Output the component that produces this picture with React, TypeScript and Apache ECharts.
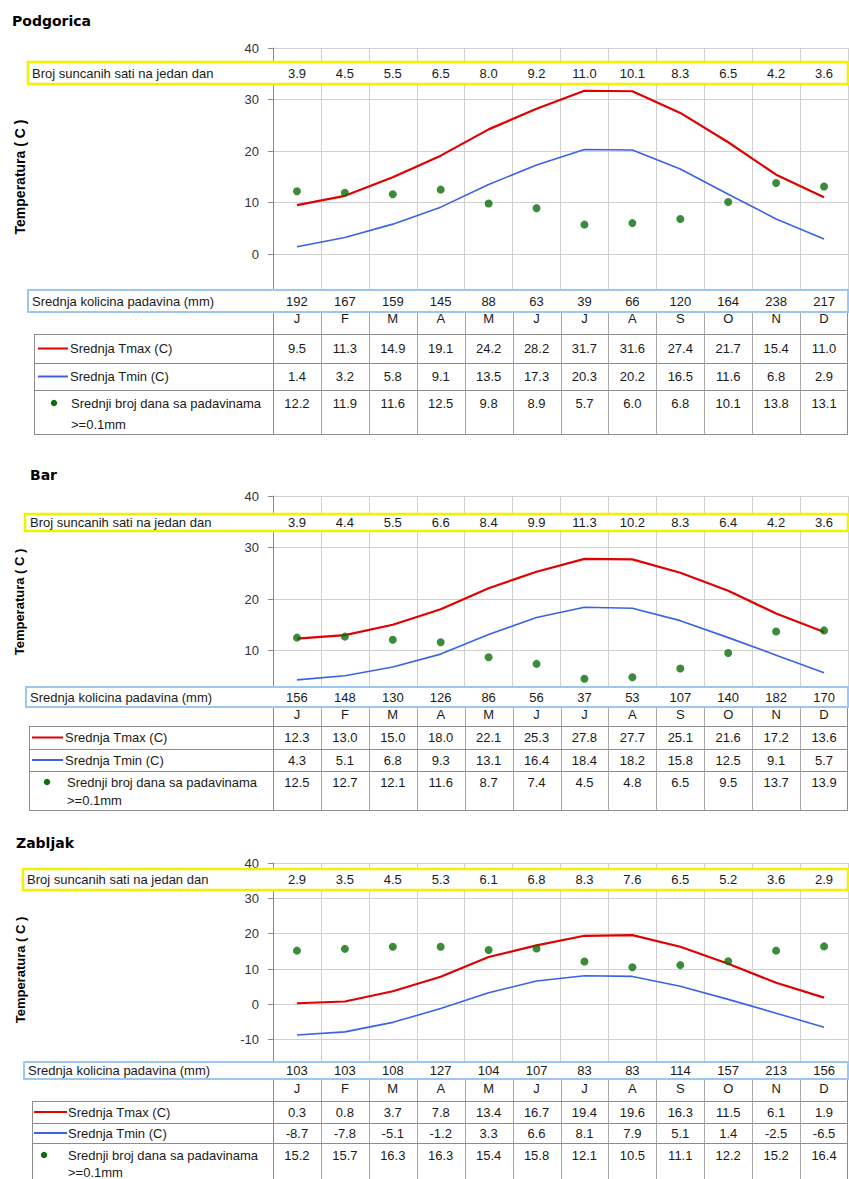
import React, { useEffect, useRef } from "react";
import * as echarts from "echarts";

// ---------- DATA ----------
const months = ["J", "F", "M", "A", "M", "J", "J", "A", "S", "O", "N", "D"];

const stationNames = ["Podgorica", "Bar", "Zabljak"];

const podgoricaSun = [3.9, 4.5, 5.5, 6.5, 8.0, 9.2, 11.0, 10.1, 8.3, 6.5, 4.2, 3.6];
const podgoricaPrecip = [192, 167, 159, 145, 88, 63, 39, 66, 120, 164, 238, 217];
const podgoricaTmax = [9.5, 11.3, 14.9, 19.1, 24.2, 28.2, 31.7, 31.6, 27.4, 21.7, 15.4, 11.0];
const podgoricaTmin = [1.4, 3.2, 5.8, 9.1, 13.5, 17.3, 20.3, 20.2, 16.5, 11.6, 6.8, 2.9];
const podgoricaDays = [12.2, 11.9, 11.6, 12.5, 9.8, 8.9, 5.7, 6.0, 6.8, 10.1, 13.8, 13.1];
const podgoricaYRange = [-10, 40];

const barSun = [3.9, 4.4, 5.5, 6.6, 8.4, 9.9, 11.3, 10.2, 8.3, 6.4, 4.2, 3.6];
const barPrecip = [156, 148, 130, 126, 86, 56, 37, 53, 107, 140, 182, 170];
const barTmax = [12.3, 13.0, 15.0, 18.0, 22.1, 25.3, 27.8, 27.7, 25.1, 21.6, 17.2, 13.6];
const barTmin = [4.3, 5.1, 6.8, 9.3, 13.1, 16.4, 18.4, 18.2, 15.8, 12.5, 9.1, 5.7];
const barDays = [12.5, 12.7, 12.1, 11.6, 8.7, 7.4, 4.5, 4.8, 6.5, 9.5, 13.7, 13.9];
const barYRange = [0, 40];

const zabljakSun = [2.9, 3.5, 4.5, 5.3, 6.1, 6.8, 8.3, 7.6, 6.5, 5.2, 3.6, 2.9];
const zabljakPrecip = [103, 103, 108, 127, 104, 107, 83, 83, 114, 157, 213, 156];
const zabljakTmax = [0.3, 0.8, 3.7, 7.8, 13.4, 16.7, 19.4, 19.6, 16.3, 11.5, 6.1, 1.9];
const zabljakTmin = [-8.7, -7.8, -5.1, -1.2, 3.3, 6.6, 8.1, 7.9, 5.1, 1.4, -2.5, -6.5];
const zabljakDays = [15.2, 15.7, 16.3, 16.3, 15.4, 15.8, 12.1, 10.5, 11.1, 12.2, 15.2, 16.4];
const zabljakYRange = [-20, 40];

const yInterval = 10;

const sunLabel = "Broj suncanih sati na jedan dan";
const precipLabel = "Srednja kolicina padavina (mm)";
const tmaxLabel = "Srednja Tmax (C)";
const tminLabel = "Srednja Tmin (C)";
const daysLabel1 = "Srednji broj dana sa padavinama";
const daysLabel2 = ">=0.1mm";
const yName = "Temperatura ( C )";

const stations = [
  { sun: podgoricaSun, precip: podgoricaPrecip, tmax: podgoricaTmax, tmin: podgoricaTmin, days: podgoricaDays, yr: podgoricaYRange },
  { sun: barSun, precip: barPrecip, tmax: barTmax, tmin: barTmin, days: barDays, yr: barYRange },
  { sun: zabljakSun, precip: zabljakPrecip, tmax: zabljakTmax, tmin: zabljakTmin, days: zabljakDays, yr: zabljakYRange },
];

// ---------- LAYOUT ----------
const W = 849;
const H = 1179;
const FONT = "'Liberation Sans', Arial, sans-serif";
const TITLE_FONT = "'DejaVu Sans', Verdana, sans-serif";
const GRID_LEFT = 273;
const GRID_RIGHT = 848;
const COL_W = (GRID_RIGHT - GRID_LEFT) / 12;

const RED = "#e00000";
const BLUE = "#3a62e8";
const GREEN = "#0a6e0a";
const YELLOW = "#f2f200";
const LIGHTBLUE = "#9cc8f0";
const BORDER = "#8c8c8c";
const SPLIT = "#d0d0d0";
const TEXT = "#1a1a1a";

const layouts = [
  {
    titleX: 12, titleY: 21, nameX: 20, nameY: 177, nameSize: 14,
    gridTop: 48, gridH: 257.5, labelMargin: 6,
    sunBox: [28, 62, 22], precipBox: [28, 290, 22], sunTextX: 32, precipTextX: 32,
    tableX: 34, rows: [334, 363, 390, 434],
    legendX: [38, 68], textX: 70, dotX: 54, daysTextX: 71, daysY: 403, daysLH: 21,
  },
  {
    titleX: 30, titleY: 475, nameX: 19, nameY: 602, nameSize: 13,
    gridTop: 496, gridH: 206, labelMargin: 6,
    sunBox: [25, 514, 17], precipBox: [26, 687, 20], sunTextX: 30, precipTextX: 30,
    tableX: 29, rows: [726, 749, 771, 810],
    legendX: [32, 63], textX: 65, dotX: 47, daysTextX: 67, daysY: 782, daysLH: 18,
  },
  {
    titleX: 16, titleY: 843, nameX: 20, nameY: 970, nameSize: 13,
    gridTop: 863, gridH: 212, labelMargin: 7,
    sunBox: [23, 869, 21], precipBox: [24, 1062, 17], sunTextX: 27, precipTextX: 28,
    tableX: 32, rows: [1101, 1123, 1143, 1195],
    legendX: [34, 67], textX: 68, dotX: 44, daysTextX: 68, daysY: 1155, daysLH: 17,
  },
];

const colCenter = (k: number) => GRID_LEFT + (k + 0.5) * COL_W;

function txt(x: number, y: number, text: string, opts: any = {}) {
  return {
    type: "text",
    x,
    y,
    z: 102,
    silent: true,
    style: {
      text,
      fill: opts.fill || TEXT,
      fontSize: opts.fontSize || 13,
      fontFamily: opts.fontFamily || FONT,
      fontWeight: opts.fontWeight || "normal",
      align: opts.align || "left",
      verticalAlign: "middle",
    },
    rotation: opts.rotation || 0,
  };
}

function hline(x1: number, x2: number, y: number, color = BORDER) {
  const yy = Math.round(y) + 0.5;
  return { type: "line", z: 101, silent: true, shape: { x1, y1: yy, x2, y2: yy }, style: { stroke: color, lineWidth: 1 } };
}
function vline(x: number, y1: number, y2: number, color = BORDER) {
  const xx = Math.round(x) + 0.5;
  return { type: "line", z: 101, silent: true, shape: { x1: xx, y1, x2: xx, y2 }, style: { stroke: color, lineWidth: 1 } };
}

function buildOption() {
  const grid: any[] = [];
  const xAxis: any[] = [];
  const yAxis: any[] = [];
  const series: any[] = [];
  const graphic: any[] = [];

  stations.forEach((st, i) => {
    const L = layouts[i];
    grid.push({
      left: GRID_LEFT,
      top: L.gridTop,
      width: GRID_RIGHT - GRID_LEFT,
      height: L.gridH,
      containLabel: false,
      outerBoundsMode: "none",
    });
    xAxis.push({
      type: "category",
      gridIndex: i,
      data: months,
      boundaryGap: true,
      axisLine: { show: false },
      axisTick: { show: false },
      axisLabel: { margin: L.labelMargin, fontSize: 13, fontFamily: FONT, color: TEXT, interval: 0 },
      splitLine: { show: true, interval: 0, lineStyle: { color: SPLIT, width: 1 } },
    });
    yAxis.push({
      type: "value",
      gridIndex: i,
      min: st.yr[0],
      max: st.yr[1],
      interval: yInterval,
      axisLine: { show: true, lineStyle: { color: "#8a8a8a" } },
      axisTick: { show: true, length: 5, lineStyle: { color: "#8a8a8a" } },
      axisLabel: { margin: 14, fontSize: 13, fontFamily: FONT, color: "#333" },
      splitLine: { show: true, lineStyle: { color: SPLIT, width: 1 } },
    });
    series.push(
      {
        type: "line",
        name: tmaxLabel,
        xAxisIndex: i,
        yAxisIndex: i,
        data: st.tmax,
        symbol: "none",
        lineStyle: { color: RED, width: 2.2 },
        z: 3,
      },
      {
        type: "line",
        name: tminLabel,
        xAxisIndex: i,
        yAxisIndex: i,
        data: st.tmin,
        symbol: "none",
        lineStyle: { color: BLUE, width: 1.6 },
        z: 3,
      },
      {
        type: "scatter",
        name: daysLabel1,
        xAxisIndex: i,
        yAxisIndex: i,
        data: st.days,
        symbol: "circle",
        symbolSize: 8,
        itemStyle: { color: GREEN },
        z: 4,
      }
    );

    // title
    graphic.push(txt(L.titleX, L.titleY, stationNames[i], { fontFamily: TITLE_FONT, fontWeight: "bold", fontSize: 14, fill: "#000" }));
    // y axis name
    graphic.push(txt(L.nameX, L.nameY, yName, { fontWeight: "bold", fontSize: L.nameSize, fill: "#000", align: "center", rotation: Math.PI / 2 }));

    // sunshine box
    const [sx, sy, sh] = L.sunBox;
    graphic.push({
      type: "rect", z: 100, silent: true,
      shape: { x: sx, y: sy, width: GRID_RIGHT - sx, height: sh },
      style: { fill: "#ffffff", stroke: YELLOW, lineWidth: 2.5 },
    });
    graphic.push(txt(L.sunTextX, sy + sh / 2, sunLabel));
    st.sun.forEach((v, k) => graphic.push(txt(colCenter(k), sy + sh / 2, v.toFixed(1), { align: "center" })));

    // precipitation box
    const [px, py, ph] = L.precipBox;
    graphic.push({
      type: "rect", z: 100, silent: true,
      shape: { x: px, y: py, width: GRID_RIGHT - px, height: ph },
      style: { fill: "#ffffff", stroke: LIGHTBLUE, lineWidth: 2 },
    });
    graphic.push(txt(L.precipTextX, py + ph / 2, precipLabel));
    st.precip.forEach((v, k) => graphic.push(txt(colCenter(k), py + ph / 2, String(v), { align: "center" })));

    // table
    const [t0, t1, t2, t3] = L.rows;
    const boxBottom = py + ph + 1;
    for (let k = 0; k <= 12; k++) {
      const x = k === 12 ? GRID_RIGHT - 1 : GRID_LEFT + k * COL_W;
      graphic.push(vline(x, boxBottom, t3, k === 12 ? BORDER : k === 0 ? BORDER : "#a8a8a8"));
    }
    graphic.push(vline(L.tableX, t0, t3));
    [t0, t1, t2, t3].forEach((y) => graphic.push(hline(L.tableX, GRID_RIGHT, y)));

    const yTmax = (t0 + t1) / 2;
    const yTmin = (t1 + t2) / 2;
    // legend samples
    graphic.push({ type: "line", z: 102, silent: true, shape: { x1: L.legendX[0], y1: yTmax, x2: L.legendX[1], y2: yTmax }, style: { stroke: RED, lineWidth: 2 } });
    graphic.push({ type: "line", z: 102, silent: true, shape: { x1: L.legendX[0], y1: yTmin, x2: L.legendX[1], y2: yTmin }, style: { stroke: BLUE, lineWidth: 2 } });
    graphic.push({ type: "circle", z: 102, silent: true, shape: { cx: L.dotX, cy: L.daysY, r: 3.2 }, style: { fill: GREEN } });
    graphic.push(txt(L.textX, yTmax, tmaxLabel));
    graphic.push(txt(L.textX, yTmin, tminLabel));
    graphic.push(txt(L.daysTextX, L.daysY, daysLabel1));
    graphic.push(txt(L.daysTextX, L.daysY + L.daysLH, daysLabel2));

    st.tmax.forEach((v, k) => graphic.push(txt(colCenter(k), yTmax, v.toFixed(1), { align: "center" })));
    st.tmin.forEach((v, k) => graphic.push(txt(colCenter(k), yTmin, v.toFixed(1), { align: "center" })));
    st.days.forEach((v, k) => graphic.push(txt(colCenter(k), L.daysY, v.toFixed(1), { align: "center" })));
  });

  return {
    animation: false,
    backgroundColor: "#ffffff",
    textStyle: { fontFamily: FONT },
    grid,
    xAxis,
    yAxis,
    series,
    graphic: { elements: graphic },
  };
}

export default function App() {
  const ref = useRef<HTMLDivElement>(null);
  useEffect(() => {
    document.body.style.margin = "0";
    if (!ref.current) return;
    const chart = echarts.init(ref.current, undefined, { renderer: "svg", width: W, height: H });
    chart.setOption(buildOption() as any);
    return () => chart.dispose();
  }, []);
  return <div ref={ref} style={{ width: W, height: H }} />;
}
